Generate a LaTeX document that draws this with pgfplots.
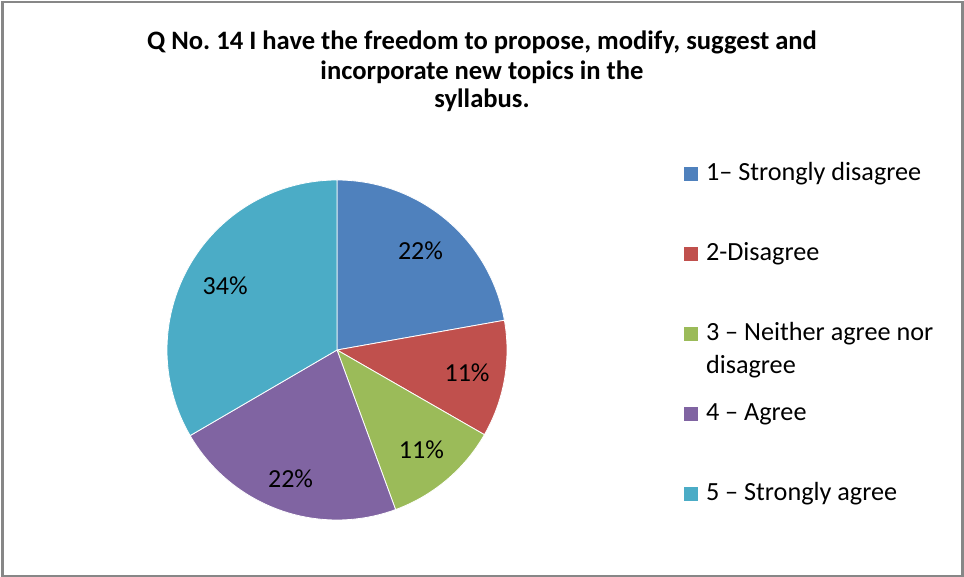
\documentclass[border=0pt]{standalone}
\usepackage{pgfplots}
\pgfplotsset{compat=1.18}
\usepackage{pgfplotstable}
\usepackage{fontspec}
\setmainfont{Carlito}
\frenchspacing

\definecolor{c1}{HTML}{4F81BD}
\definecolor{c2}{HTML}{C0504D}
\definecolor{c3}{HTML}{9BBB59}
\definecolor{c4}{HTML}{8064A2}
\definecolor{c5}{HTML}{4BACC6}
\definecolor{frame}{HTML}{878787}

% share of answers (percent) and radius of the label
\pgfplotstableread{
slice value lr
1 22.2 130
2 11.1 132
3 11.1 131
4 22.2 137
5 33.4 129
}\piedata

\newcommand\getval[2]{\pgfplotstablegetelem{#1}{value}\of\piedata\global\let#2\pgfplotsretval}
\newcommand\getlr[2]{\pgfplotstablegetelem{#1}{lr}\of\piedata\global\let#2\pgfplotsretval}
\getval{0}\vA \getval{1}\vB \getval{2}\vC \getval{3}\vD \getval{4}\vE
\getlr{0}\rA \getlr{1}\rB \getlr{2}\rC \getlr{3}\rD \getlr{4}\rE

\def\cx{337}
\def\cy{227}
\def\R{170}

\pgfmathsetmacro\aA{90}
\pgfmathsetmacro\aB{\aA-3.6*\vA}
\pgfmathsetmacro\aC{\aB-3.6*\vB}
\pgfmathsetmacro\aD{\aC-3.6*\vC}
\pgfmathsetmacro\aE{\aD-3.6*\vD}
\pgfmathsetmacro\aF{\aE-3.6*\vE}
\pgfmathsetmacro\mA{(\aA+\aB)/2}
\pgfmathsetmacro\mB{(\aB+\aC)/2}
\pgfmathsetmacro\mC{(\aC+\aD)/2}
\pgfmathsetmacro\mD{(\aD+\aE)/2}
\pgfmathsetmacro\mE{(\aE+\aF)/2}
\pgfmathsetmacro\xA{\cx+\rA*cos(\mA)}\pgfmathsetmacro\yA{\cy+\rA*sin(\mA)}
\pgfmathsetmacro\xB{\cx+\rB*cos(\mB)}\pgfmathsetmacro\yB{\cy+\rB*sin(\mB)}
\pgfmathsetmacro\xC{\cx+\rC*cos(\mC)}\pgfmathsetmacro\yC{\cy+\rC*sin(\mC)}
\pgfmathsetmacro\xD{\cx+\rD*cos(\mD)}\pgfmathsetmacro\yD{\cy+\rD*sin(\mD)}
\pgfmathsetmacro\xE{\cx+\rE*cos(\mE)}\pgfmathsetmacro\yE{\cy+\rE*sin(\mE)}

\begin{document}
\begin{tikzpicture}
\path[use as bounding box] (0,0) rectangle (964bp,577bp);
\begin{axis}[
  at={(0,0)}, anchor=origin,
  scale only axis, width=964bp, height=577bp,
  xmin=0, xmax=964, ymin=0, ymax=577,
  hide axis, clip=false,
  legend image code/.code={\fill[#1,draw=none] (0bp,0bp) rectangle (14bp,14bp);},
  legend style={at={(axis cs:684,414)}, anchor=north west, draw=none, fill=none,
    inner sep=0pt, outer sep=0pt, row sep=56bp, column sep=8bp,
    font=\fontsize{26.2bp}{32.6bp}\selectfont,
    nodes={inner sep=0pt, text height=18bp, text depth=6bp},
    cells={anchor=base west}},
]
\addplot[fill=c1, draw=white, line width=0.8bp, domain=\aB:\aA, samples=90]
  ({\cx+\R*cos(x)},{\cy+\R*sin(x)}) -- (\cx,\cy) -- cycle;
\addlegendentry{1– Strongly disagree}
\addplot[fill=c2, draw=white, line width=0.8bp, domain=\aC:\aB, samples=50]
  ({\cx+\R*cos(x)},{\cy+\R*sin(x)}) -- (\cx,\cy) -- cycle;
\addlegendentry{2-Disagree}
\addplot[fill=c3, draw=white, line width=0.8bp, domain=\aD:\aC, samples=50]
  ({\cx+\R*cos(x)},{\cy+\R*sin(x)}) -- (\cx,\cy) -- cycle;
\addlegendentry{\parbox[t]{250bp}{\raggedright 3 – Neither agree nor\\disagree}}
\addplot[fill=c4, draw=white, line width=0.8bp, domain=\aE:\aD, samples=90]
  ({\cx+\R*cos(x)},{\cy+\R*sin(x)}) -- (\cx,\cy) -- cycle;
\addlegendentry{4 – Agree}
\addplot[fill=c5, draw=white, line width=0.8bp, domain=\aF:\aE, samples=120]
  ({\cx+\R*cos(x)},{\cy+\R*sin(x)}) -- (\cx,\cy) -- cycle;
\addlegendentry{5 – Strongly agree}

\node[font=\fontsize{26bp}{30bp}\selectfont, inner sep=0pt] at (axis cs:\xA,\yA) {22\%};
\node[font=\fontsize{26bp}{30bp}\selectfont, inner sep=0pt] at (axis cs:\xB,\yB) {11\%};
\node[font=\fontsize{26bp}{30bp}\selectfont, inner sep=0pt] at (axis cs:\xC,\yC) {11\%};
\node[font=\fontsize{26bp}{30bp}\selectfont, inner sep=0pt] at (axis cs:\xD,\yD) {22\%};
\node[font=\fontsize{26bp}{30bp}\selectfont, inner sep=0pt] at (axis cs:\xE,\yE) {34\%};

\node[font=\bfseries\fontsize{26.6bp}{30bp}\selectfont, inner sep=0pt, anchor=base] at (axis cs:482,527.5) {Q No. 14 I have the freedom to propose, modify, suggest and};
\node[font=\bfseries\fontsize{26.6bp}{30bp}\selectfont, inner sep=0pt, anchor=base] at (axis cs:482,497.5) {incorporate new topics in the};
\node[font=\bfseries\fontsize{26.6bp}{30bp}\selectfont, inner sep=0pt, anchor=base] at (axis cs:482,469.5) {syllabus.};

\draw[frame, line width=2.3bp] (axis cs:2.6,1.2) rectangle (axis cs:962.6,575.2);
\end{axis}
\end{tikzpicture}
\end{document}
